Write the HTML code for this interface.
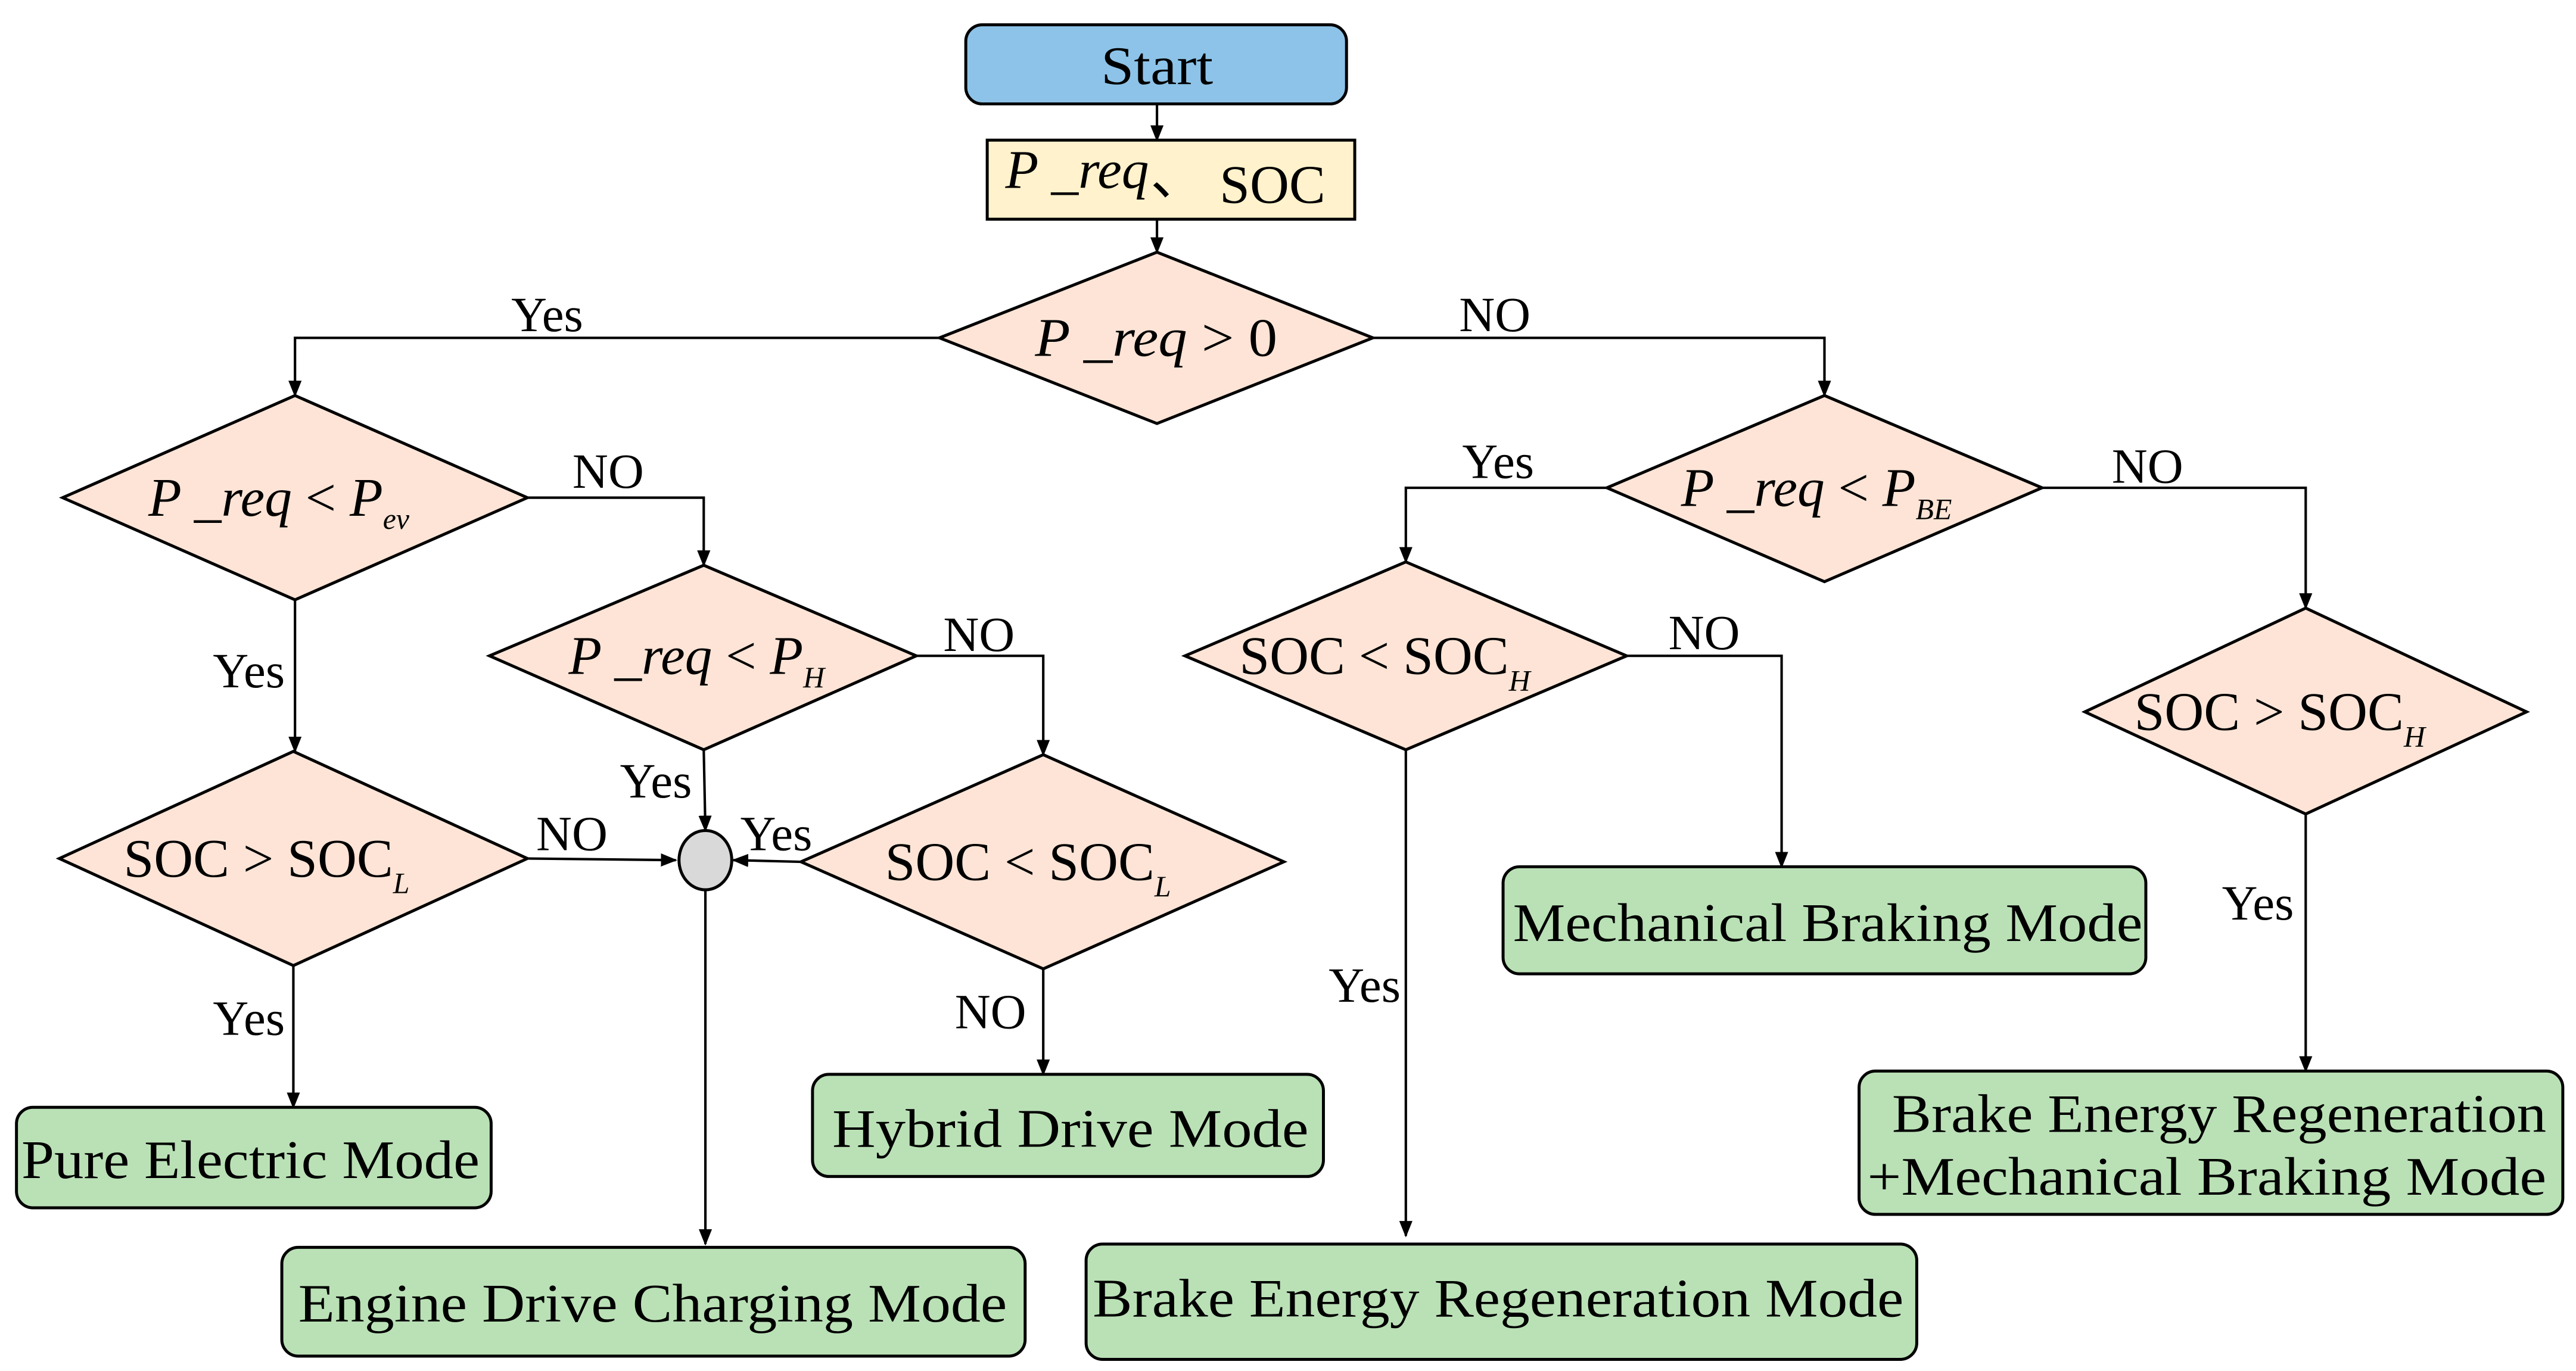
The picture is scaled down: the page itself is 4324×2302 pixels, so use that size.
<!DOCTYPE html>
<html><head><meta charset="utf-8"><style>
html,body{margin:0;padding:0;background:#fff}
svg{display:block}
text{font-family:"Liberation Serif",serif;fill:#000}
</style></head><body>
<svg width="4324" height="2302" viewBox="0 0 1563 832" xmlns="http://www.w3.org/2000/svg">
<defs><marker id="a" markerWidth="10" markerHeight="10" refX="9" refY="5" orient="auto" markerUnits="userSpaceOnUse"><path d="M0,1 L10,5 L0,9 z" fill="#000"/></marker></defs>
<g stroke="#000" stroke-width="1.5" fill="none">
<path d="M702,63 V85" marker-end="url(#a)"/>
<path d="M702,133 V153" marker-end="url(#a)"/>
<path d="M570,205 H179 V240" marker-end="url(#a)"/>
<path d="M833,205 H1107 V240" marker-end="url(#a)"/>
<path d="M320,302 H427 V343" marker-end="url(#a)"/>
<path d="M179,364 V456" marker-end="url(#a)"/>
<path d="M556,398 H633 V458" marker-end="url(#a)"/>
<path d="M427,455 L428,504" marker-end="url(#a)"/>
<path d="M320,521 L410,522" marker-end="url(#a)"/>
<path d="M178,586 V672" marker-end="url(#a)"/>
<path d="M486,523 L445,522" marker-end="url(#a)"/>
<path d="M633,588 V652" marker-end="url(#a)"/>
<path d="M428,540 V755" marker-end="url(#a)"/>
<path d="M975,296 H853 V341" marker-end="url(#a)"/>
<path d="M1239,296 H1399 V369" marker-end="url(#a)"/>
<path d="M987,398 H1081 V526" marker-end="url(#a)"/>
<path d="M853,455 V750" marker-end="url(#a)"/>
<path d="M1399,494 V650" marker-end="url(#a)"/>
</g>
<g stroke="#000" stroke-width="1.8">
<rect x="586" y="15" width="231" height="48" rx="10" fill="#8DC3E8"/>
<rect x="599" y="85" width="223" height="48" fill="#FFF2CC"/>
<g fill="#FDE4D6">
<polygon points="702,153 833,205 702,257 570,205"/>
<polygon points="179,240 320,302 179,364 38,302"/>
<polygon points="427,343 556,398 427,455 297,398"/>
<polygon points="178,456 320,521 178,586 36,521"/>
<polygon points="633,458 779,523 633,588 486,523"/>
<polygon points="1107,240 1239,296 1107,353 975,296"/>
<polygon points="853,341 987,398 853,455 719,398"/>
<polygon points="1399,369 1533,432 1399,494 1265,432"/>
</g>
<ellipse cx="428" cy="522" rx="16" ry="18" fill="#D9D9D9"/>
<g fill="#BAE1B6">
<rect x="10" y="672" width="288" height="61" rx="10"/>
<rect x="171" y="757" width="451" height="66" rx="10"/>
<rect x="493" y="652" width="310" height="62" rx="10"/>
<rect x="912" y="526" width="390" height="65" rx="10"/>
<rect x="659" y="755" width="504" height="70" rx="10"/>
<rect x="1128" y="650" width="427" height="87" rx="10"/>
</g>
</g>
<g font-size="33">
<text x="668" y="51" textLength="68" lengthAdjust="spacingAndGlyphs">Start</text>
<text x="610" y="114" font-style="italic">P _req</text><text x="698" y="118">、</text><text x="740" y="123">SOC</text>
<text x="628" y="216" font-style="italic" textLength="147" lengthAdjust="spacingAndGlyphs">P _req <tspan font-style="normal">&gt; 0</tspan></text>
<text x="90" y="313" font-style="italic">P _req <tspan font-style="normal">&lt;</tspan> P<tspan font-size="18" dy="8">ev</tspan></text>
<text x="345" y="409" font-style="italic">P _req <tspan font-style="normal">&lt;</tspan> P<tspan font-size="18" dy="8">H</tspan></text>
<text x="75" y="532">SOC &gt; SOC<tspan font-size="18" dy="10" font-style="italic">L</tspan></text>
<text x="537" y="534">SOC &lt; SOC<tspan font-size="18" dy="10" font-style="italic">L</tspan></text>
<text x="1020" y="307" font-style="italic">P _req <tspan font-style="normal">&lt;</tspan> P<tspan font-size="18" dy="8">BE</tspan></text>
<text x="752" y="409">SOC &lt; SOC<tspan font-size="18" dy="10" font-style="italic">H</tspan></text>
<text x="1295" y="443">SOC &gt; SOC<tspan font-size="18" dy="10" font-style="italic">H</tspan></text>
</g>
<g font-size="30">
<text x="332" y="201" text-anchor="middle">Yes</text>
<text x="907" y="201" text-anchor="middle">NO</text>
<text x="369" y="296" text-anchor="middle">NO</text>
<text x="151" y="417" text-anchor="middle">Yes</text>
<text x="594" y="395" text-anchor="middle">NO</text>
<text x="398" y="484" text-anchor="middle">Yes</text>
<text x="347" y="516" text-anchor="middle">NO</text>
<text x="471" y="516" text-anchor="middle">Yes</text>
<text x="151" y="628" text-anchor="middle">Yes</text>
<text x="601" y="624" text-anchor="middle">NO</text>
<text x="909" y="290" text-anchor="middle">Yes</text>
<text x="1303" y="293" text-anchor="middle">NO</text>
<text x="1034" y="394" text-anchor="middle">NO</text>
<text x="828" y="608" text-anchor="middle">Yes</text>
<text x="1370" y="558" text-anchor="middle">Yes</text>
</g>
<g font-size="33" lengthAdjust="spacingAndGlyphs">
<text x="13" y="715" textLength="278" lengthAdjust="spacingAndGlyphs">Pure Electric Mode</text>
<text x="181" y="802" textLength="430" lengthAdjust="spacingAndGlyphs">Engine Drive Charging Mode</text>
<text x="505" y="696" textLength="289" lengthAdjust="spacingAndGlyphs">Hybrid Drive Mode</text>
<text x="918" y="571" textLength="382" lengthAdjust="spacingAndGlyphs">Mechanical Braking Mode</text>
<text x="663" y="799" textLength="492" lengthAdjust="spacingAndGlyphs">Brake Energy Regeneration Mode</text>
<text x="1148" y="687" textLength="397" lengthAdjust="spacingAndGlyphs">Brake Energy Regeneration</text>
<text x="1133" y="725" textLength="412" lengthAdjust="spacingAndGlyphs">+Mechanical Braking Mode</text>
</g>
</svg>
</body></html>
